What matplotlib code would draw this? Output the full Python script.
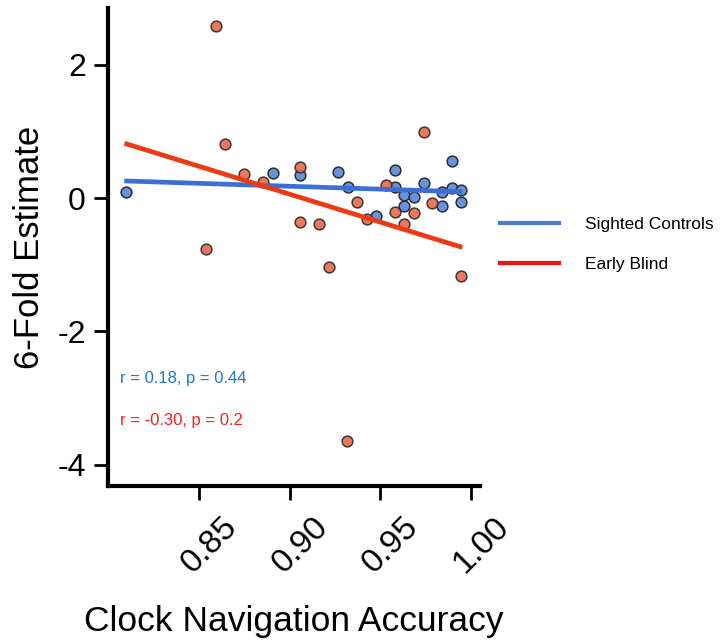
import matplotlib
matplotlib.use("Agg")
import matplotlib.pyplot as plt
import matplotlib.transforms as mtransforms
from matplotlib.lines import Line2D

plt.rcParams['font.family'] = ['Liberation Sans', 'DejaVu Sans']

# Sighted controls (blue)
sighted_x = [0.8097, 0.8907, 0.9060, 0.9270, 0.9323, 0.9478, 0.9583, 0.9583, 0.9633,
             0.9633, 0.9688, 0.9740, 0.9841, 0.9841, 0.9896, 0.9896, 0.9948, 0.9948]
sighted_y = [0.085, 0.37, 0.345, 0.394, 0.16, -0.27, 0.42, 0.16, 0.045,
             -0.115, 0.01, 0.23, 0.094, -0.12, 0.555, 0.154, 0.12, -0.055]

# Early blind (red)
blind_x = [0.8594, 0.8645, 0.8539, 0.8749, 0.8854, 0.9060, 0.9060, 0.9163, 0.9373, 0.9427,
           0.9531, 0.9583, 0.9633, 0.9688, 0.9740, 0.9789, 0.9217, 0.9948, 0.9319]
blind_y = [2.583, 0.805, -0.76, 0.36, 0.244, 0.469, -0.355, -0.39, -0.055, -0.315,
           0.195, -0.21, -0.39, -0.22, 0.994, -0.08, -1.04, -1.17, -3.64]

# regression lines (end points)
fit_x = [0.810, 0.9942]
sighted_fit = [0.255, 0.094]
blind_fit = [0.81, -0.73]

x_ticks = [0.85, 0.90, 0.95, 1.00]
x_tick_labels = ['0.85', '0.90', '0.95', '1.00']
y_ticks = [-4, -2, 0, 2]
y_tick_labels = ['-4', '-2', '0', '2']

fig = plt.figure(figsize=(7.24, 6.44), dpi=100)
ax = fig.add_axes([0.1492, 0.2453, 0.514, 0.7423])

ax.scatter(sighted_x, sighted_y, s=60, color='#6991dc', edgecolor='#2e2e2e',
           linewidth=1.1, zorder=3)
ax.scatter(blind_x, blind_y, s=60, color='#ea6b4f', edgecolor='#2e2e2e',
           linewidth=1.1, alpha=0.92, zorder=3)
ax.plot(fit_x, sighted_fit, color='#3b6fd6', lw=3.4, zorder=4)
ax.plot(fit_x, blind_fit, color='#ee3a12', lw=3.4, zorder=4)

ax.set_xlim(0.7997, 1.0053)
ax.set_ylim(-4.32, 2.85)
ax.set_xticks(x_ticks)
ax.set_xticklabels(x_tick_labels, rotation=45, ha='center', fontsize=24)
ax.set_yticks(y_ticks)
ax.set_yticklabels(y_tick_labels, fontsize=23)

for side in ['top', 'right']:
    ax.spines[side].set_visible(False)
for side in ['left', 'bottom']:
    ax.spines[side].set_linewidth(3)
ax.tick_params(direction='out', length=10, width=2, pad=6)

# shift the rotated x tick labels a bit to the right (after tick_params)
offset = mtransforms.ScaledTranslation(11 / 100, -3 / 100, fig.dpi_scale_trans)
for lbl in ax.get_xticklabels():
    lbl.set_transform(lbl.get_transform() + offset)

ax.set_xlabel('Clock Navigation Accuracy', fontsize=25.5, labelpad=19)
ax.set_ylabel('6-Fold Estimate', fontsize=25, labelpad=8)

ax.text(0.8064, -2.71, 'r = 0.18, p = 0.44', color='#1f78c8', fontsize=12, va='center')
ax.text(0.8064, -3.33, 'r = -0.30, p = 0.2', color='#ff1a1a', fontsize=12, va='center')

handles = [Line2D([], [], color='#4f7bd0', lw=3),
           Line2D([], [], color='#ee1111', lw=3)]
fig.legend(handles, ['Sighted Controls', 'Early Blind'], loc='upper left',
           bbox_to_anchor=(500 / 724, 1 - 217 / 644), frameon=False, fontsize=12.5,
           borderpad=0, borderaxespad=0, handlelength=3.4, handletextpad=1.5,
           labelspacing=1.4)

fig.savefig('out.png', dpi=100)
